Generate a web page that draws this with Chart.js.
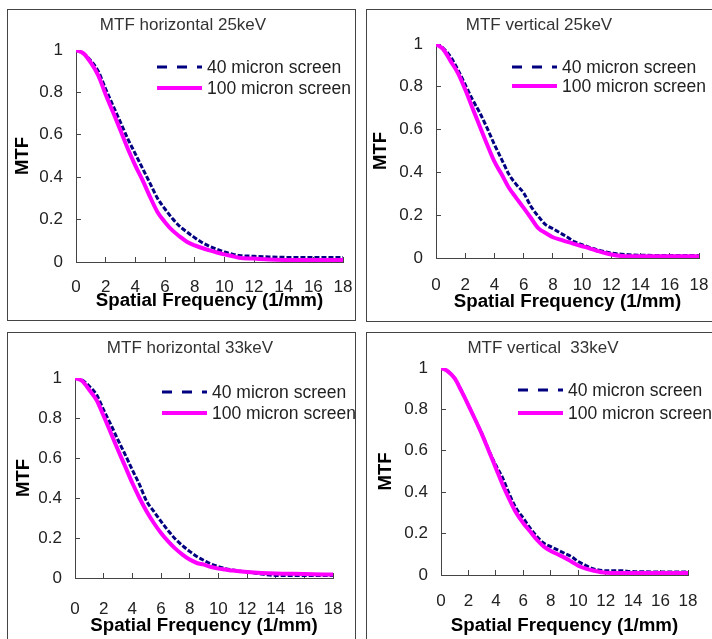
<!DOCTYPE html>
<html>
<head>
<meta charset="utf-8">
<script src="https://cdn.jsdelivr.net/npm/chart.js@4.4.1/dist/chart.umd.min.js"></script>
<style>
  html, body { margin: 0; padding: 0; background: #fff; overflow: hidden; }
  body { width: 712px; height: 639px; position: relative; }
  .panel { position: absolute; border: 1px solid #444; box-sizing: border-box; }
  canvas { position: absolute; }
</style>
</head>
<body>
<script>
// spatial frequency (1/mm), shared x values of every curve
const freq = [0, 0.5, 1, 1.5, 2, 2.5, 3, 3.5, 4, 4.5, 5, 5.5, 6, 6.5, 7, 7.5, 8, 8.5, 9, 9.5, 10, 10.5, 11, 12, 13, 14, 16, 18];

// MTF values
const h25_40  = [1.0, 0.984, 0.95, 0.90, 0.816, 0.737, 0.659, 0.58, 0.51, 0.44, 0.37, 0.30, 0.25, 0.205, 0.168, 0.14, 0.115, 0.092, 0.074, 0.06, 0.047, 0.038, 0.031, 0.027, 0.024, 0.022, 0.021, 0.021];
const h25_100 = [1.0, 0.984, 0.94, 0.88, 0.79, 0.706, 0.62, 0.533, 0.455, 0.384, 0.306, 0.235, 0.188, 0.149, 0.12, 0.094, 0.078, 0.066, 0.055, 0.045, 0.036, 0.028, 0.02, 0.016, 0.012, 0.01, 0.009, 0.009];
const v25_40  = [1.0, 0.98, 0.94, 0.88, 0.81, 0.74, 0.678, 0.607, 0.53, 0.46, 0.39, 0.343, 0.304, 0.241, 0.195, 0.156, 0.137, 0.117, 0.097, 0.075, 0.062, 0.05, 0.039, 0.023, 0.016, 0.013, 0.012, 0.012];
const v25_100 = [1.0, 0.975, 0.92, 0.864, 0.787, 0.70, 0.615, 0.53, 0.45, 0.39, 0.327, 0.28, 0.234, 0.187, 0.14, 0.117, 0.097, 0.086, 0.075, 0.065, 0.055, 0.045, 0.034, 0.016, 0.008, 0.008, 0.008, 0.008];
const h33_40  = [1.0, 0.99, 0.958, 0.917, 0.84, 0.767, 0.69, 0.617, 0.54, 0.467, 0.383, 0.333, 0.283, 0.237, 0.195, 0.162, 0.133, 0.108, 0.088, 0.07, 0.057, 0.047, 0.04, 0.03, 0.02, 0.013, 0.012, 0.013];
const h33_100 = [1.0, 0.985, 0.94, 0.89, 0.81, 0.725, 0.64, 0.558, 0.475, 0.40, 0.333, 0.275, 0.225, 0.183, 0.147, 0.117, 0.092, 0.075, 0.067, 0.055, 0.047, 0.042, 0.037, 0.03, 0.025, 0.022, 0.02, 0.017];
const v33_40  = [1.0, 0.984, 0.95, 0.89, 0.82, 0.75, 0.68, 0.60, 0.53, 0.468, 0.387, 0.32, 0.274, 0.226, 0.185, 0.153, 0.137, 0.121, 0.105, 0.089, 0.065, 0.048, 0.032, 0.021, 0.021, 0.016, 0.015, 0.015];
const v33_100 = [1.0, 0.984, 0.95, 0.887, 0.82, 0.75, 0.677, 0.597, 0.516, 0.435, 0.363, 0.298, 0.25, 0.21, 0.169, 0.137, 0.116, 0.10, 0.084, 0.065, 0.045, 0.032, 0.023, 0.011, 0.01, 0.01, 0.01, 0.01];

const seriesNames = ['40 micron screen', '100 micron screen'];
const titles = ['MTF horizontal 25keV', 'MTF vertical 25keV', 'MTF horizontal 33keV', 'MTF vertical  33keV'];
const xTitle = 'Spatial Frequency (1/mm)';
const yTitle = 'MTF';
const xMax = 18, xStep = 2;
const yMax = 1, yStep = 0.2;

const FONT = "'Liberation Sans', Arial, sans-serif";

// page layout of each panel (absolute px)
const panels = [
  { title: titles[0], s40: h25_40, s100: h25_100, box: [7, 9, 355, 320], area: [76, 50, 343, 262],
    titleX: 183, titleY: 25, yTitleX: 23, xTickY: 287, xTitleY: 301, legX: 157, legY: [67, 88] },
  { title: titles[1], s40: v25_40, s100: v25_100, box: [366, 9, 720, 321], area: [436, 44, 699, 258],
    titleX: 539, titleY: 25, yTitleX: 381, xTickY: 285, xTitleY: 302, legX: 512, legY: [67, 86] },
  { title: titles[2], s40: h33_40, s100: h33_100, box: [7, 332, 355, 645], area: [75, 378, 333, 578],
    titleX: 190, titleY: 348, yTitleX: 24, xTickY: 609, xTitleY: 626, legX: 162, legY: [392, 413] },
  { title: titles[3], s40: v33_40, s100: v33_100, box: [366, 332, 720, 645], area: [441, 368, 688, 575],
    titleX: 543, titleY: 348, yTitleX: 386, xTickY: 601, xTitleY: 626, legX: 518, legY: [390, 413] }
];

// legend drawn inside the plot, with line samples
const insideLegend = {
  id: 'insideLegend',
  afterDraw(chart, args, opts) {
    const ctx = chart.ctx;
    ctx.save();
    chart.data.datasets.forEach((ds, i) => {
      const y = opts.y[i];
      ctx.beginPath();
      ctx.strokeStyle = ds.borderColor;
      ctx.lineWidth = ds.borderWidth;
      ctx.setLineDash(i === 0 ? [10, 10] : []);
      ctx.moveTo(opts.x, y);
      ctx.lineTo(opts.x + 45, y);
      ctx.stroke();
      ctx.setLineDash([]);
      ctx.fillStyle = '#222';
      ctx.font = '17.5px ' + FONT;
      ctx.textBaseline = 'middle';
      ctx.textAlign = 'left';
      ctx.fillText(ds.label, opts.x + 50, y + 1);
    });
    ctx.restore();
  }
};

panels.forEach(p => {
  const div = document.createElement('div');
  div.className = 'panel';
  div.style.left = p.box[0] + 'px';
  div.style.top = p.box[1] + 'px';
  div.style.width = (p.box[2] - p.box[0] + 1) + 'px';
  div.style.height = (p.box[3] - p.box[1] + 1) + 'px';
  document.body.appendChild(div);

  const cl = p.box[0] + 1, ct = p.box[1] + 1;
  const W = Math.round(2 * (p.titleX - cl));
  const H = Math.round(p.xTitleY + 13 - ct);
  const canvas = document.createElement('canvas');
  canvas.width = W; canvas.height = H;
  canvas.style.left = cl + 'px';
  canvas.style.top = ct + 'px';
  canvas.style.width = W + 'px';
  canvas.style.height = H + 'px';
  document.body.appendChild(canvas);

  const titleTop = p.titleY - ct - 8.5;
  const titleBottom = p.area[1] - ct - titleTop - 17;
  const yWidth = p.area[0] - cl;
  const xHeight = H - (p.area[3] - ct);
  const rightInset = W - (p.area[2] - cl);

  new Chart(canvas, {
    type: 'line',
    data: {
      datasets: [
        { label: seriesNames[0], data: freq.map((f, i) => ({ x: f, y: p.s40[i] })),
          borderColor: '#000080', borderWidth: 3, borderDash: [5, 2], pointRadius: 0,
          cubicInterpolationMode: 'monotone', order: 1 },
        { label: seriesNames[1], data: freq.map((f, i) => ({ x: f, y: p.s100[i] })),
          borderColor: '#ff00ff', borderWidth: 4, pointRadius: 0,
          cubicInterpolationMode: 'monotone', order: 0 }
      ]
    },
    options: {
      responsive: false,
      animation: false,
      layout: { padding: 0 },
      plugins: {
        legend: { display: false },
        tooltip: { enabled: false },
        title: {
          display: true, text: p.title, color: '#333',
          font: { family: FONT, size: 17, weight: 'normal', lineHeight: 1 },
          padding: { top: titleTop, bottom: titleBottom }
        },
        insideLegend: { x: p.legX - cl, y: p.legY.map(v => v - ct) }
      },
      scales: {
        x: {
          type: 'linear', min: 0, max: xMax,
          grid: { display: true, drawOnChartArea: false, drawTicks: true, tickLength: -5, color: '#444' },
          border: { display: true, color: '#444', width: 1 },
          ticks: { stepSize: xStep, autoSkip: false, maxRotation: 0, color: '#222',
                   padding: (p.xTickY - p.area[3]) - 3.5,
                   font: { family: FONT, size: 17, lineHeight: 1 } },
          title: { display: true, text: xTitle, color: '#000',
                   font: { family: FONT, size: 18.7, weight: 'bold', lineHeight: 1 },
                   padding: { top: 0, bottom: 4 } },
          afterFit(scale) { scale.height = xHeight; scale.paddingRight = rightInset; }
        },
        y: {
          min: 0, max: yMax,
          grid: { display: true, drawOnChartArea: false, drawTicks: true, tickLength: -5, color: '#444' },
          border: { display: true, color: '#444', width: 1 },
          ticks: { stepSize: yStep, color: '#222', padding: 18,
                   font: { family: FONT, size: 17, lineHeight: 1 },
                   callback: v => String(+v.toFixed(1)) },
          title: { display: true, text: yTitle, color: '#000',
                   font: { family: FONT, size: 18.5, weight: 'bold', lineHeight: 1 },
                   padding: { top: p.yTitleX - cl - 9, bottom: 0 } },
          afterFit(scale) { scale.width = yWidth; }
        }
      }
    },
    plugins: [insideLegend]
  });
});
</script>
</body>
</html>
